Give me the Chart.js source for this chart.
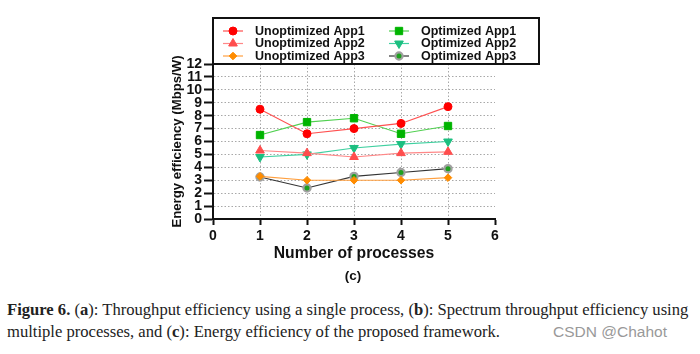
<!DOCTYPE html>
<html>
<head>
<meta charset="utf-8">
<script src="https://cdn.jsdelivr.net/npm/chart.js@4/dist/chart.umd.min.js"></script>
<style>
  html, body { margin: 0; padding: 0; background: #fff; }
  body { width: 700px; height: 354px; position: relative; overflow: hidden; }
  #wrap { position: absolute; left: 0; top: 0; width: 700px; height: 290px; }
  .sub { position: absolute; left: 333px; top: 268px; width: 40px; text-align: center;
         font: bold 13.5px "Liberation Sans", Arial, sans-serif; color: #111; }
  .cap { position: absolute; left: 7px; font-family: "Liberation Serif", "DejaVu Serif", serif;
         font-size: 16.6px; color: #222; white-space: nowrap; }
  .wm { position: absolute; left: 553px; top: 323px; font: 15.5px "Liberation Sans", Arial, sans-serif; color: #999; }
</style>
</head>
<body>
<div id="wrap"><canvas id="energy"></canvas></div>
<div class="sub">(c)</div>
<div class="cap" style="top:300px"><b>Figure 6.</b> (<b>a</b>): Throughput efficiency using a single process, (<b>b</b>): Spectrum throughput efficiency using</div>
<div class="cap" style="top:322px">multiple processes, and (<b>c</b>): Energy efficiency of the proposed framework.</div>
<div class="wm">CSDN @Chahot</div>
<script>
// データ
var processes = [1, 2, 3, 4, 5];
var unoptApp1 = [8.5, 6.6, 7.0, 7.4, 8.7];
var optApp1   = [6.5, 7.5, 7.8, 6.6, 7.2];
var unoptApp2 = [5.3, 5.1, 4.8, 5.1, 5.2];
var optApp2   = [4.8, 5.0, 5.5, 5.8, 6.0];
var unoptApp3 = [3.3, 3.0, 3.0, 3.0, 3.2];
var optApp3   = [3.25, 2.4, 3.3, 3.6, 3.9];

var toXY = function(vals){
  return vals.map(function(v, i){ return {x: processes[i], y: v}; });
};

var mkSet = function(label, vals, line, fill, border, style, radius, extra){
  var ds = {
    label: label,
    data: toXY(vals),
    borderColor: line,
    borderWidth: 1.1,
    pointStyle: style,
    pointRadius: radius,
    pointHoverRadius: radius,
    pointBackgroundColor: fill,
    pointBorderColor: border,
    pointBorderWidth: 1,
    fill: false,
    tension: 0
  };
  for (var k in extra) ds[k] = extra[k];
  return ds;
};

var datasets = [
  mkSet('Unoptimized App1', unoptApp1, '#ff5050', '#ff0000', '#ff0000', 'circle', 4, {}),
  mkSet('Optimized App1',   optApp1,   '#50d050', '#00b400', '#00b400', 'rect', 5.2, {}),
  mkSet('Unoptimized App2', unoptApp2, '#ff8888', '#ff4d4d', '#ff4d4d', 'triangle', 5, {}),
  mkSet('Optimized App2',   optApp2,   '#40d0a0', '#1cbf80', '#1cbf80', 'triangle', 5, {pointRotation: 180}),
  mkSet('Unoptimized App3', unoptApp3, '#ffa040', '#ff8c00', '#ff8c00', 'rectRot', 3.8, {}),
  mkSet('Optimized App3',   optApp3,   '#333333', '#1fa01f', '#a0a0a0', 'circle', 3.6, {pointBorderWidth: 2.2})
];

// 凡例（枠付き・2列）
var boxLegend = {
  id: 'boxLegend',
  afterDraw: function(chart){
    var ctx = chart.ctx;
    var left = 213, top = 18, right = 539, bottom = 64;
    ctx.save();
    ctx.fillStyle = '#fff';
    ctx.fillRect(left, top, right - left, bottom - top);
    ctx.lineWidth = 2;
    ctx.strokeStyle = '#111';
    ctx.strokeRect(left, top, right - left, bottom - top);
    var cols = [223, 389];
    var rows = [31, 43.5, 56];
    chart.data.datasets.forEach(function(ds, i){
      var x0 = cols[i % 2], y = rows[Math.floor(i / 2)];
      ctx.strokeStyle = ds.borderColor;
      ctx.lineWidth = 1.2;
      ctx.beginPath();
      ctx.moveTo(x0, y);
      ctx.lineTo(x0 + 20, y);
      ctx.stroke();
      ctx.fillStyle = ds.pointBackgroundColor;
      ctx.strokeStyle = ds.pointBorderColor;
      ctx.lineWidth = ds.pointBorderWidth;
      Chart.helpers.drawPoint(ctx, {
        pointStyle: ds.pointStyle,
        rotation: ds.pointRotation || 0,
        radius: ds.pointRadius,
        borderWidth: ds.pointBorderWidth
      }, x0 + 10, y);
      ctx.fillStyle = '#111';
      ctx.font = 'bold 12.5px "Liberation Sans", Arial, sans-serif';
      ctx.textBaseline = 'middle';
      ctx.fillText(ds.label, x0 + 32, y + 0.5);
    });
    ctx.restore();
  }
};

var tickFont = {family: '"Liberation Sans", Arial, sans-serif', size: 14, weight: 'bold'};

var config = {
  type: 'line',
  data: {datasets: datasets},
  options: {
    responsive: true,
    maintainAspectRatio: false,
    animation: false,
    layout: {padding: {left: 169, top: 64, right: 205, bottom: 27.1}},
    plugins: {legend: {display: false}, tooltip: {enabled: false}},
    scales: {
      x: {
        type: 'linear',
        min: 0, max: 6,
        ticks: {stepSize: 1, autoSkip: false, color: '#111', font: tickFont, padding: 3, maxRotation: 0},
        grid: {
          color: function(c){ var v = c.tick && c.tick.value; return (v === 0 || v === 6) ? 'rgba(0,0,0,0)' : '#a8a8a8'; },
          lineWidth: 1,
          tickColor: '#111', tickWidth: 2, tickLength: 6, tickBorderDash: []
        },
        border: {color: '#111', width: 2, dash: [1.5, 2]},
        title: {display: true, text: 'Number of processes', color: '#111',
                font: {family: '"Liberation Sans", Arial, sans-serif', size: 15.7, weight: 'bold'}, padding: 0},
        afterFit: function(s){ s.height = 43.9; }
      },
      y: {
        min: 0, max: 12,
        ticks: {stepSize: 1, autoSkip: false, color: '#111', font: tickFont, padding: 2},
        grid: {
          color: function(c){ var v = c.tick && c.tick.value; return (v === 0 || v === 12) ? 'rgba(0,0,0,0)' : '#a8a8a8'; },
          lineWidth: 1,
          tickColor: '#111', tickWidth: 2, tickLength: 9, tickBorderDash: []
        },
        border: {color: '#111', width: 2, dash: [1.5, 2]},
        title: {display: true, text: 'Energy efficiency (Mbps/W)', color: '#111',
                font: {family: '"Liberation Sans", Arial, sans-serif', size: 13.2, weight: 'bold'}, padding: 0},
        afterFit: function(s){ s.width = 44; }
      }
    }
  },
  plugins: [boxLegend]
};

new Chart(document.getElementById('energy').getContext('2d'), config);
</script>
</body>
</html>
